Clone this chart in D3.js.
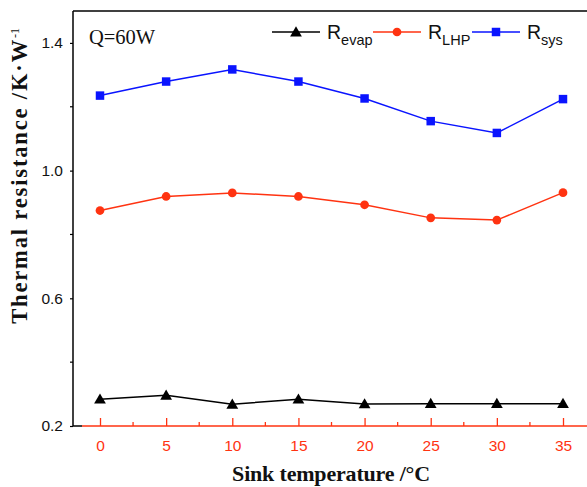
<!DOCTYPE html>
<html lang="en">
<head>
<meta charset="utf-8">
<title>Thermal resistance vs sink temperature</title>
<script src="https://cdn.jsdelivr.net/npm/d3@7"></script>
<style>
  body { margin: 0; background: #fff; }
  svg { display: block; }
</style>
</head>
<body>
<script>
// data
const sinkTemp = [0, 5, 10, 15, 20, 25, 30, 35];
const rEvap = [0.284, 0.296, 0.268, 0.284, 0.269, 0.270, 0.270, 0.270];
const rLHP = [0.875, 0.919, 0.930, 0.919, 0.893, 0.852, 0.845, 0.931];
const rSys = [1.235, 1.279, 1.317, 1.279, 1.226, 1.155, 1.118, 1.224];
const yTicks = [0.2, 0.6, 1.0, 1.4];
const yMinor = [0.4, 0.8, 1.2];
const xMinor = [2.5, 7.5, 12.5, 17.5, 22.5, 27.5, 32.5];

const W = 587, H = 487;
const plotLeft = 73, plotTop = 11, plotBottom = 426, plotRight = 587;
const red = "#ff3311", blue = "#0a14ff";
const serif = "Liberation Serif, Times New Roman, serif";
const sans = "Liberation Sans, Arial, sans-serif";

const svg = d3.select("body").append("svg")
  .attr("width", W).attr("height", H);

const x = d3.scaleLinear().domain([0, 35]).range([100, 563]);
const y = d3.scaleLinear().domain([0.2, 1.5]).range([plotBottom, plotTop]);

// left axis
const yAxis = d3.axisLeft(y).tickValues(yTicks).tickSize(3).tickPadding(7)
  .tickFormat(d3.format(".1f"));
const gy = svg.append("g").attr("transform", `translate(${plotLeft},0)`).call(yAxis);
gy.select(".domain").remove();
gy.selectAll("line").attr("stroke", "#000").attr("stroke-width", 1.2);
gy.selectAll("text").attr("font-family", sans)
  .attr("font-size", 15.5).attr("fill", "#111");
gy.selectAll(".minor").data(yMinor).enter().append("line")
  .attr("x1", -3).attr("x2", 0)
  .attr("y1", d => y(d)).attr("y2", d => y(d))
  .attr("stroke", "#000").attr("stroke-width", 1.2);

// bottom axis (red, ticks pointing in)
const xAxis = d3.axisBottom(x).tickValues(sinkTemp).tickSizeInner(-8).tickSizeOuter(0)
  .tickPadding(14);
const gx = svg.append("g").attr("transform", `translate(0,${plotBottom})`).call(xAxis);
gx.select(".domain").remove();
gx.selectAll("line").attr("stroke", red).attr("stroke-width", 1.3);
gx.selectAll("text").attr("font-family", sans)
  .attr("font-size", 15.5).attr("fill", red);
gx.selectAll(".minor").data(xMinor).enter().append("line")
  .attr("x1", d => x(d)).attr("x2", d => x(d))
  .attr("y1", -4).attr("y2", 0)
  .attr("stroke", red).attr("stroke-width", 1.3);

// frame lines
svg.append("line").attr("x1", plotLeft).attr("x2", plotRight).attr("y1", plotTop).attr("y2", plotTop)
  .attr("stroke", "#000").attr("stroke-width", 1.5);
svg.append("line").attr("x1", plotLeft).attr("x2", plotLeft).attr("y1", plotTop).attr("y2", plotBottom)
  .attr("stroke", "#000").attr("stroke-width", 1.5);
svg.append("line").attr("x1", plotLeft).attr("x2", 82).attr("y1", plotBottom).attr("y2", plotBottom)
  .attr("stroke", "#000").attr("stroke-width", 1.5);
svg.append("line").attr("x1", 82).attr("x2", plotRight).attr("y1", plotBottom).attr("y2", plotBottom)
  .attr("stroke", red).attr("stroke-width", 1.5);

// series
const series = [
  { name: "evap", values: rEvap, color: "#000", marker: d3.symbolTriangle, size: 60 },
  { name: "LHP", values: rLHP, color: red, marker: d3.symbolCircle, size: 60 },
  { name: "sys", values: rSys, color: blue, marker: d3.symbolSquare, size: 72 }
];

const line = d3.line().x((d, i) => x(sinkTemp[i])).y(d => y(d));

series.forEach(s => {
  svg.append("path").datum(s.values)
    .attr("d", line).attr("fill", "none")
    .attr("stroke", s.color).attr("stroke-width", 1.5);
  svg.append("g").selectAll("path").data(s.values).enter().append("path")
    .attr("transform", (d, i) => `translate(${x(sinkTemp[i])},${y(d) + (s.marker === d3.symbolTriangle ? 1 : 0)})`)
    .attr("d", d3.symbol().type(s.marker).size(s.size))
    .attr("fill", s.color);
});

// legend
const legendX = [272, 373, 472];
const legendY = 32;
series.forEach((s, i) => {
  const lx = legendX[i];
  svg.append("line").attr("x1", lx).attr("x2", lx + 48)
    .attr("y1", legendY).attr("y2", legendY)
    .attr("stroke", s.color).attr("stroke-width", 1.5);
  svg.append("path")
    .attr("transform", `translate(${lx + 24},${legendY + (s.marker === d3.symbolTriangle ? 1 : 0)})`)
    .attr("d", d3.symbol().type(s.marker).size(s.size))
    .attr("fill", s.color);
  const t = svg.append("text").attr("x", lx + 55).attr("y", 39)
    .attr("font-family", sans)
    .attr("font-size", 19.5).attr("fill", "#111");
  t.append("tspan").text("R");
  t.append("tspan").attr("dy", 6).attr("font-size", 14.5).text(s.name);
});

// annotation
svg.append("text").attr("x", 89).attr("y", 44)
  .attr("font-family", serif)
  .attr("font-size", 20.5).attr("fill", "#111").text("Q=60W");

// axis titles, fitted to the length they take in the figure
function fitText(sel, target) {
  const w = sel.node().getComputedTextLength();
  const n = sel.text().length;
  if (n > 1) sel.attr("letter-spacing", (target - w) / (n - 1));
}

const xl = svg.append("text").attr("x", 331).attr("y", 481).attr("text-anchor", "middle")
  .attr("font-family", serif)
  .attr("font-weight", "bold").attr("font-size", 22).attr("fill", "#111")
  .text("Sink temperature /\u00b0C");
fitText(xl, 198);

const yl = svg.append("text")
  .attr("transform", "translate(27,28) rotate(-90)").attr("text-anchor", "end")
  .attr("font-family", serif)
  .attr("font-weight", "bold").attr("font-size", 22.5).attr("fill", "#111");
const ylMain = yl.append("tspan").text("Thermal resistance /K\u00b7W");
fitText(ylMain, 284);
yl.append("tspan").attr("dy", -8).attr("font-size", 12).attr("font-weight", "normal")
  .attr("letter-spacing", 0).text("-1");
</script>
</body>
</html>
